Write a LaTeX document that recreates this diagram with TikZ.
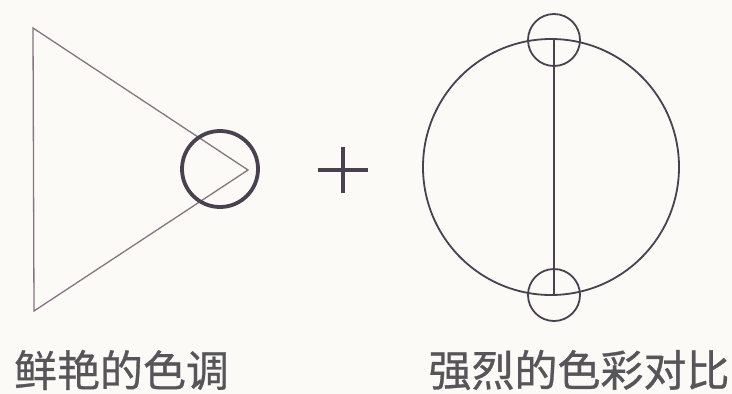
\documentclass[tikz,border=0pt]{standalone}
\usepackage{fontspec}
\newfontfamily\cjk[FakeBold=0.7]{Noto Sans CJK SC}
\definecolor{bg}{HTML}{FBFAF6}
\definecolor{thinln}{HTML}{857482}
\definecolor{darkln}{HTML}{4A4150}
\definecolor{txt}{HTML}{55555A}
\begin{document}
\begin{tikzpicture}[x=1pt,y=-1pt,
  thinline/.style={draw=thinln,line width=1.3pt},
  ring/.style={circle,draw=darkln,line width=1.8pt,inner sep=0pt},
  thickring/.style={circle,draw=darkln,line width=3.8pt,inner sep=0pt},
  label/.style={font=\cjk\fontsize{43}{46}\selectfont,text=txt,inner sep=0pt}]
\fill[bg] (0,0) rectangle (732,394);
\useasboundingbox (0,0) rectangle (732,394);
% triangle
\coordinate (t1) at (33,28);
\coordinate (t2) at (34,311);
\coordinate (t3) at (248,170);
\draw[thinline,line join=miter] (t1) -- (t2) -- (t3) -- cycle;
\node[thickring,minimum size=76pt] (c1) at (220,169) {};
% plus
\coordinate (pl) at (318,170);
\coordinate (pr) at (368,170);
\coordinate (pt) at (343,147);
\coordinate (pb) at (343,193);
\draw[draw=darkln,line width=3.2pt] (pl) -- (pr) (pt) -- (pb);
% big circle
\node[ring,minimum size=256pt] (big) at (551,167) {};
\node[ring,minimum size=52pt] (s1) at (554,40) {};
\node[ring,minimum size=52pt] (s2) at (554,295) {};
\draw[draw=darkln,line width=1.8pt] (s1.center) -- (s2.center);
% labels
\node[label] (l1) at (121.5,370) {鲜艳的色调};
\node[label] (l2) at (579,370) {强烈的色彩对比};
\end{tikzpicture}
\end{document}
